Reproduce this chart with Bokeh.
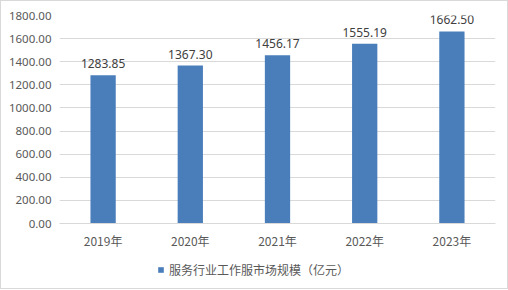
from bokeh.plotting import figure
from bokeh.layouts import column
from bokeh.models import ColumnDataSource, FactorRange, Range1d, NumeralTickFormatter, Legend, LegendItem, LabelSet, FixedTicker
from bokeh.core.properties import value
from bokeh.embed import file_html
from bokeh.resources import INLINE

years = ["2019年", "2020年", "2021年", "2022年", "2023年"]
values = [1283.85, 1367.30, 1456.17, 1555.19, 1662.50]
series_name = "服务行业工作服市场规模（亿元）"
y_ticks = [0, 200, 400, 600, 800, 1000, 1200, 1400, 1600, 1800]
bar_color = "#4A7EBB"

labels = ["%.2f" % v for v in values]
src = ColumnDataSource(dict(x=years, top=values, label=labels))

p = figure(width=506, height=250, x_range=FactorRange(*years, range_padding=0),
           y_range=Range1d(0, 1800), output_backend="svg", toolbar_location=None,
           min_border_left=58, min_border_right=12, min_border_top=14, min_border_bottom=25)
p.outline_line_color = None
p.background_fill_color = "white"
p.border_fill_color = "white"

r = p.vbar(x="x", top="top", width=0.29, source=src, fill_color=bar_color, line_color=None)

p.add_layout(LabelSet(x="x", y="top", text="label", source=src, text_align="center",
                      text_baseline="bottom", y_offset=7, text_font_size="12px",
                      text_font=value("Noto Sans"), text_color="#404040"))

p.yaxis.ticker = FixedTicker(ticks=y_ticks)
p.yaxis.formatter = NumeralTickFormatter(format="0.00")
p.yaxis.axis_line_color = None
p.yaxis.major_tick_line_color = None
p.yaxis.minor_tick_line_color = None
p.yaxis.major_tick_out = 0
p.yaxis.major_tick_in = 0
p.yaxis.major_label_text_font = "Noto Sans"
p.yaxis.major_label_text_font_size = "11.5px"
p.yaxis.major_label_text_color = "#595959"
p.yaxis.major_label_standoff = 8

p.xaxis.axis_line_color = "#D9D9D9"
p.xaxis.major_tick_line_color = None
p.xaxis.minor_tick_line_color = None
p.xaxis.major_tick_out = 0
p.xaxis.major_tick_in = 0
p.xaxis.major_label_text_font = "Noto Sans CJK SC"
p.xaxis.major_label_text_font_size = "12px"
p.xaxis.major_label_text_color = "#595959"
p.xaxis.major_label_standoff = 8

p.xgrid.grid_line_color = None
p.ygrid.grid_line_color = "#D9D9D9"

# legend strip below the chart (bars kept out of view; only the legend shows)
p2 = figure(width=506, height=37, x_range=FactorRange(*years, range_padding=0),
            y_range=Range1d(5000, 6000), output_backend="svg", toolbar_location=None,
            min_border=0, x_axis_location=None, y_axis_location=None)
p2.grid.visible = False
p2.outline_line_color = None
p2.border_fill_color = "white"
r2 = p2.vbar(x="x", top="top", width=0.29, source=src, fill_color=bar_color, line_color=None)
legend = Legend(items=[LegendItem(label=series_name, renderers=[r2])], location=(98, 10),
                orientation="horizontal", glyph_width=7, glyph_height=7,
                label_text_font="Noto Sans CJK SC", label_text_font_size="12px",
                label_text_color="#595959", border_line_color=None, background_fill_alpha=0,
                label_standoff=5, padding=2, margin=0)
p2.add_layout(legend)

layout = column(p, p2, spacing=0)
layout.styles = {"border": "1px solid #D9D9D9"}

open("out.html", "w").write(file_html(layout, INLINE))
